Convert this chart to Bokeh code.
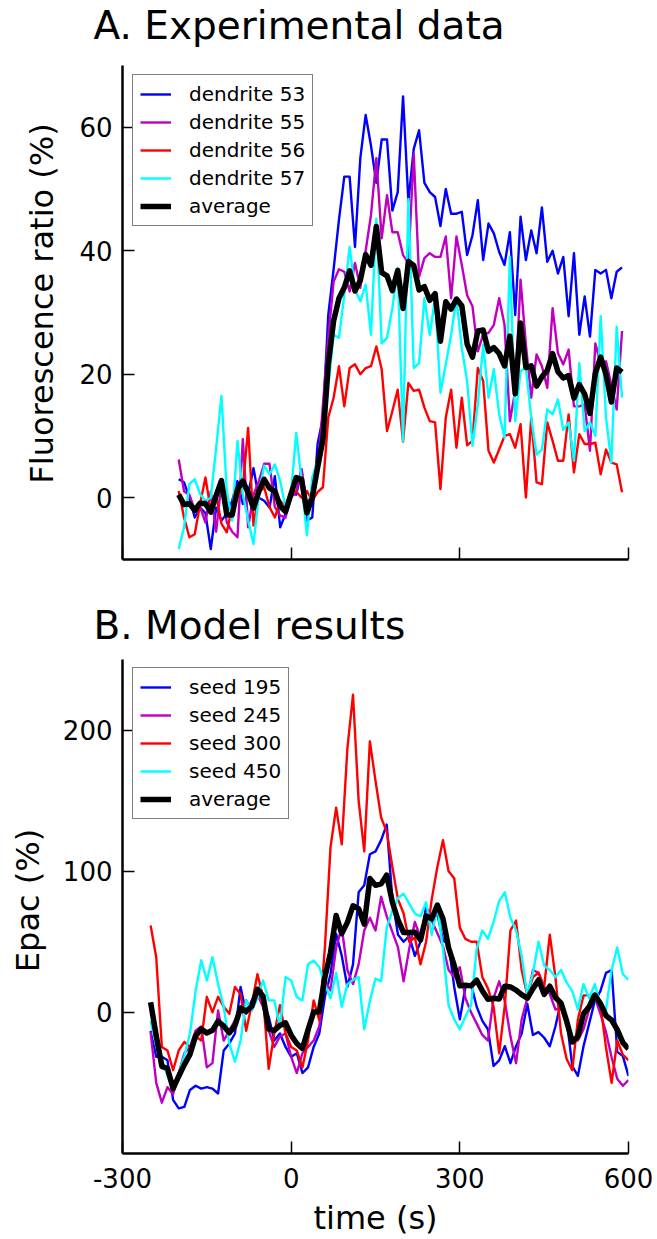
import numpy as np
from bokeh.plotting import figure
from bokeh.layouts import column
from bokeh.models import Range1d, FixedTicker
from bokeh.embed import file_html
from bokeh.resources import INLINE

FONT = "DejaVu Sans"

# ---------------- A. Experimental data (sampling ~9.5 s) ----------------
time_exp = np.arange(84) * 9.5 - 200.0
dendrite_53 = [3.0, 2.5, 0, -3.2, -1.6, -2.5, -8.3, -1.6, -3.7, -2.6, -0.5, 2.7, -1, 0.6, 4.8, 0,
               -0.5, -1.6, 3.5, -4.8, -2.6, 0.6, 0.5, 4.6, -3.7, -3.2,
               8.7, 13, 29.6, 37, 45, 52, 52, 40.6, 55, 62, 57, 51, 58, 58, 46.5, 49.5, 65, 48,
               56.5, 59.5, 51, 49.5, 48.7, 44, 50, 46, 46, 46.3,
               39.3, 42.5, 48.2, 38.5, 44.4, 42.8, 39.8, 37.7, 43, 29.6, 45.5, 38.5, 43.3, 39.6,
               47, 38.2, 40, 36.3, 39, 29.4, 39.6, 26.4, 32.6, 26.1, 36.9, 36.3, 36.9, 32.3, 36.6, 37.3]
dendrite_55 = [6.2, 1.0, 0.5, -2.0, -1.5, -4.0, 1.0, -5.5, 2.5, -4.0, -5.5, -6.4, 9.5, -4.8, 0.5, 2.7,
               5.5, 5.5, -1.5, -2.9, -3.2, 0.0, 1.0, 4.6, -1.0, 0.5,
               4, 15,
               26, 35, 37, 36.6, 33.4, 38, 34, 40, 45.8, 55, 42, 49, 43, 43, 39.3, 38, 55.7, 35.8,
               38.8, 39.6, 39, 39, 42.3, 32.3, 42.3, 37.7, 32.8,
               31, 23.7, 26.4, 26.7, 28, 32.3, 28, 12.4, 17.3, 35.3, 24.8, 16.2, 23.2, 21.3, 17.8,
               30.7, 23.4, 21.6, 24, 14.8, 14.8, 15.1, 7.6, 25, 21.6, 22.1, 18.3, 14.3, 27]
dendrite_56 = [1.1, -3.2, -6.4, -5.9, -1.0, 3.3, -2.0, 0.5, -4.2, -5.6, -1.5, 0.0, 1.7, 11.3, -4.5, 0.9,
               1.7, -1.5, -3.2, -0.5, -1.5, 1.1, 1.0, 0.0, 1.1, -0.5,
               0.9, 1.7, 13, 16.2, 21.3, 14.8, 21, 21.6, 20, 21, 21.3, 24.5, 20.8, 10.8, 14, 17.5,
               9.1, 18.6, 17.3, 17.5, 14.6, 12.4, 12.2, 1.4, 13, 17.5, 8.1, 16.2, 8.5, 9.2, 21,
               18.9, 7.6, 5.7, 7.8, 10, 10.3, 8.1, 11.9, 0.05, 13, 2.5, 2.2, 12.2, 9.2, 6, 6, 13.5,
               4.1, 10.3, 8.7, 8.7, 8.9, 3.8, 7.8, 5.7, 5.4, 0.9]
dendrite_57 = [-8.3, -4.8, 2.2, 3.0, 0.6, -0.5, 0.0, 8.0, 16.5, 1.1, -3.7, 9.2, 0.6, -3.7, -7.5, 0.5,
               5.2, 3.8, 5.4, 2.7, -1.6, 0.5, 10.5, 2.7, -6.1, 3.3,
               6, 8.1, 18, 26.4, 25.9, 32.8, 40.6, 33.7, 31.8, 34.5, 26.4, 45.2, 25, 25.9, 30.7,
               37.2, 9.2, 48.4, 21, 21.8, 32.3, 26.4, 32.3, 17, 21.6, 26.4, 32.3, 24.2, 18.9,
               8.4, 15.1, 24.8, 16.2, 20.8, 13.5, 9.7, 39, 12.4, 20.5, 21, 13, 7, 7.8, 14.3, 13.5,
               15.9, 11, 12.2, 6, 21.8, 10.8, 12.2, 10, 29.4, 13, 5.7, 27.7, 16.2]
exp_series = [("dendrite 53", dendrite_53), ("dendrite 55", dendrite_55),
              ("dendrite 56", dendrite_56), ("dendrite 57", dendrite_57)]
# the black trace is the mean of the four dendrites
exp_average = np.mean([dendrite_53, dendrite_55, dendrite_56, dendrite_57], axis=0)

# ---------------- B. Model results (10 s grid) ----------------
time_mod = np.arange(-250, 601, 10)
seed_195 = [-13, -31.5, -31.5, -34, -62, -68, -67, -55, -52, -54, -53, -54, -57.5,
            -27, -22, -15, 18, -1, 8.5, 15.5, 8.5, -3, -20, -15, -24.5, -31.5,
            -29, -43, -39, -24.5, -15, 11, 27, 55.6, 40, 18, 34, 85, 90, 112, 114, 122,
            133, 80, 55, 50, 54, 40, 50, 75, 65, 70, 51, 48, 18, -5, 18, 20, 4, -6, -12, -38,
            -34, -24, -36, -24, -15, 6, -16, -14, -18, -24, -10, 8, -5, -38, -45, -24, -8, 8,
            15, 28, 30, -28, -31, -45]
seed_245 = [-14, -50, -64, -53, -58, -43, -29, -24.5, -13, -10, -39, -36, 1.4,
            -20, -13, -5.7, 1.4, 8.5, 1.4, 13, 3.8, -13, -24.5, -17, -15, -31.5,
            -43, -29, -24.5, -20, -10, 22.6, 15.5, 46, 60, 30, 20, 34, 58, 67, 58, 82,
            68, 57, 46, 22, 45, 64, 53, 70, 65, 56, 47, 30, 25, 32, 10, 0, -8, -16, -20, 10,
            22, 8, -17, -36, -5, 10, 30, 28, 18, 13, 2, 3, -8, -20, -20, -12, 2, 11, -1, -14,
            -32, -47, -52, -48]
seed_300 = [61.5, 39, -24.5, -27, -41, -27, -21, -24.5, -17, -20, 11, 0, 11,
            4, -1, 18, 13, -13, 6, 27, 11, -40, -15, 5, -15, -24.5,
            -27, -39, -20, 8.5, -5.6, 46, 117, 145, 119, 187, 225, 150, 114, 192, 164, 138,
            128, 103, 80, 70, 50, 53, 34, 50, 80, 103, 122, 100, 95, 60, 52, 50, 50, 25, 17, 4,
            -29, 5, 58, 65, 30, 12, 25, 28, 18, 55, 25, -15, -33, -41, -5, 12, 12, 10, 6, -25,
            -50, -20, -30, -34]
seed_450 = [-6, -24, -33, -45, -55, -43, -31, -15, 15, 37, 22.6, 39, 20,
            3.8, -22, -35, -20, 8.5, 1.4, 10, 22.6, 8.5, 8.5, -10, 25, 22.6,
            10.8, 8.5, 34, 36.7, 32, 20, 10, 28, 4, 20, 23, 25, -12, 8, 24, 22,
            60, 72, 81, 84, 77, 70, 68, 78, 55, 75, 45, 5, -5, -12, -3, 5, 45, 58, 52, 64,
            79, 85, 67, 58, 40, 12, 28, 50, 33, 30, 25, 30, 21, 15, 2, 20, 10, 20, 5, 2,
            30, 46, 27, 23]
mod_series = [("seed 195", seed_195), ("seed 245", seed_245),
              ("seed 300", seed_300), ("seed 450", seed_450)]
mod_average = np.mean([seed_195, seed_245, seed_300, seed_450], axis=0)

x_ticks = [-300, 0, 300, 600]
x_tick_text = {-300: "-300", 0: "0", 300: "300", 600: "600"}
colors = ["#0000ff", "#bf00bf", "#ff0000", "#00ffff"]

W = 657
TITLE_H = 46      # space taken by the title row above each frame


def make_panel(height, bottom, ylim, yticks, ylabel, title, times, series, avg,
               show_xlabels, ylabel_standoff, axis_top_px):
    # frame spans from TITLE_H to height-bottom; the drawn axis stops at ylim[1],
    # which sits axis_top_px below the frame's top edge
    frame_h = height - bottom - TITLE_H
    scale = (frame_h - axis_top_px) / (ylim[1] - ylim[0])
    y_top = ylim[1] + axis_top_px / scale
    p = figure(width=W, height=height, x_range=Range1d(-300, 600),
               y_range=Range1d(ylim[0], y_top),
               output_backend="svg", toolbar_location=None,
               min_border_left=122, min_border_right=29,
               min_border_top=TITLE_H, min_border_bottom=bottom)
    p.grid.visible = False
    p.outline_line_color = None
    p.background_fill_color = "white"
    p.border_fill_color = "white"
    p.xaxis.ticker = FixedTicker(ticks=x_ticks)
    p.yaxis.ticker = FixedTicker(ticks=yticks)
    p.yaxis.bounds = ylim
    for ax in (p.xaxis, p.yaxis):
        ax.major_tick_in = 12
        ax.major_tick_out = 0
        ax.minor_tick_line_color = None
        ax.axis_line_width = 2.5
        ax.axis_line_color = "black"
        ax.major_tick_line_width = 1.5
        ax.major_tick_line_color = "black"
        ax.major_label_text_font = FONT
        ax.major_label_text_font_size = "26px"
        ax.major_label_text_color = "black"
        ax.major_label_standoff = 10
        ax.axis_label_text_font = FONT
        ax.axis_label_text_font_size = "32px"
        ax.axis_label_text_font_style = "normal"
        ax.axis_label_text_color = "black"
    p.yaxis.axis_label = ylabel
    p.yaxis.axis_label_standoff = ylabel_standoff
    if show_xlabels:
        p.xaxis.major_label_overrides = x_tick_text
        p.xaxis.major_label_standoff = 14
        p.xaxis.axis_label = "time (s)"
        p.xaxis.axis_label_standoff = 8
    else:
        p.xaxis.major_label_overrides = {t: "" for t in x_ticks}
        p.xaxis.major_label_standoff = 0

    p.title.text = title
    p.title.align = "left"
    p.title.offset = -29
    p.title.standoff = 0
    p.title.text_font = FONT
    p.title.text_font_size = "39px"
    p.title.text_font_style = "normal"
    p.title.text_color = "black"

    for (name, vals), col in zip(series, colors):
        p.line(times, vals, line_color=col, line_width=2.4, line_join="round",
               legend_label=name)
    p.line(times, avg, line_color="black", line_width=5.5, line_join="round",
           legend_label="average")

    lg = p.legend[0]
    lg.location = (10, frame_h - axis_top_px - 10 - 152)
    lg.margin = 0
    lg.padding = 7
    lg.spacing = 4
    lg.label_height = 22
    lg.glyph_height = 22
    lg.glyph_width = 31
    lg.label_standoff = 18
    lg.label_text_font = FONT
    lg.label_text_font_size = "20px"
    lg.label_text_color = "black"
    lg.border_line_color = "black"
    lg.border_line_width = 1.3
    lg.background_fill_color = "white"
    lg.background_fill_alpha = 1.0
    return p


p1 = make_panel(600, 41, (-10, 70), [0, 20, 40, 60], "Fluorescence ratio (%)",
                "A. Experimental data", time_exp, exp_series, exp_average, False, 15, 18)
p2 = make_panel(639, 85, (-100, 250), [0, 100, 200], "Epac (%)",
                "B. Model results", time_mod, mod_series, mod_average, True, 13, 12)

layout = column(p1, p2, spacing=0)
open("out.html", "w").write(file_html(layout, INLINE))
